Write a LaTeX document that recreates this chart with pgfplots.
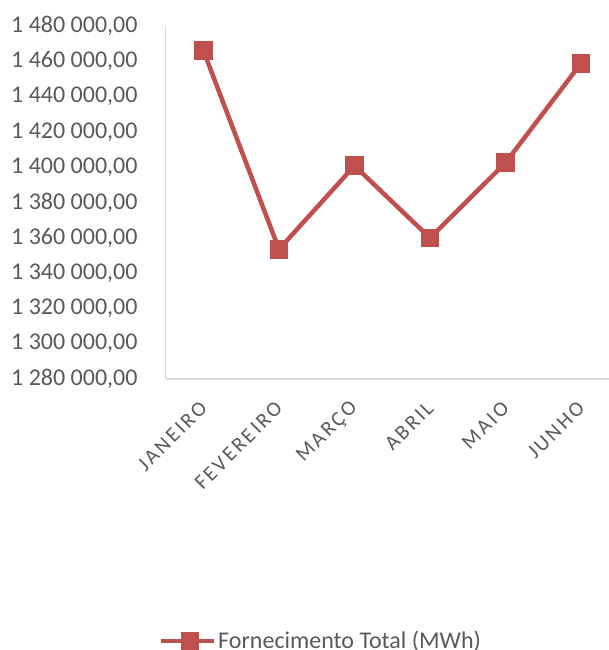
\documentclass[border=0pt]{standalone}
\usepackage{fontspec}
\setmainfont{Carlito}
\newfontfamily\spaced[LetterSpace=12]{Carlito}
\usepackage{pgfplots}
\pgfplotsset{compat=1.18}
\definecolor{ser}{HTML}{C0504D}
\definecolor{txt}{HTML}{595959}
\definecolor{axc}{HTML}{D9D9D9}
\begin{document}
\begin{tikzpicture}[x=1pt,y=1pt]
\useasboundingbox (-165.7,-271) rectangle (443.3,379);
\begin{axis}[
  at={(0,0)}, anchor=south west,
  scale only axis, width=443.3pt, height=353pt,
  xmin=-0.5, xmax=5.37,
  ymin=1280000, ymax=1480000,
  ytick={1280000,1300000,...,1480000},
  xtick={0,1,2,3,4,5},
  xticklabels={JANEIRO,FEVEREIRO,MARÇO,ABRIL,MAIO,JUNHO},
  axis x line*=bottom, axis y line*=left,
  axis line style={axc, line width=1.3pt},
  major tick length=0pt,
  clip=false,
  scaled y ticks=false,
  xticklabel shift=26pt,
  xticklabel style={rotate=45, anchor=east, inner sep=0pt, text=txt,
    font=\fontsize{21}{25}\selectfont\spaced},
  yticklabel style={anchor=east, inner sep=0pt, xshift=-28pt, text=txt,
    font=\fontsize{24}{28}\selectfont,
    /pgf/number format/.cd, fixed, fixed zerofill, precision=2, use comma,
    1000 sep={\ }, assume math mode=true},
  legend style={at={(0.35,-0.742)}, anchor=center, draw=none, fill=none,
    font=\fontsize{24}{28}\selectfont, text=txt, inner sep=0pt,
    /tikz/every even column/.append style={column sep=0pt}},
  legend cell align=left,
  legend image code/.code={%
    \draw[#1, mark repeat=2, mark phase=2] plot coordinates {(0pt,0pt) (29pt,0pt) (53pt,0pt)};},
]
\addplot[ser, line width=4.5pt, mark=square*, mark size=8.8pt,
  mark options={solid, line width=0pt, fill=ser}]
  coordinates {
  (0,1466000)
  (1,1353500)
  (2,1400850)
  (3,1359900)
  (4,1402550)
  (5,1458870)
  };
\addlegendentry{\hspace{0pt}Fornecimento Total (MWh)}
\end{axis}
\end{tikzpicture}
\end{document}
